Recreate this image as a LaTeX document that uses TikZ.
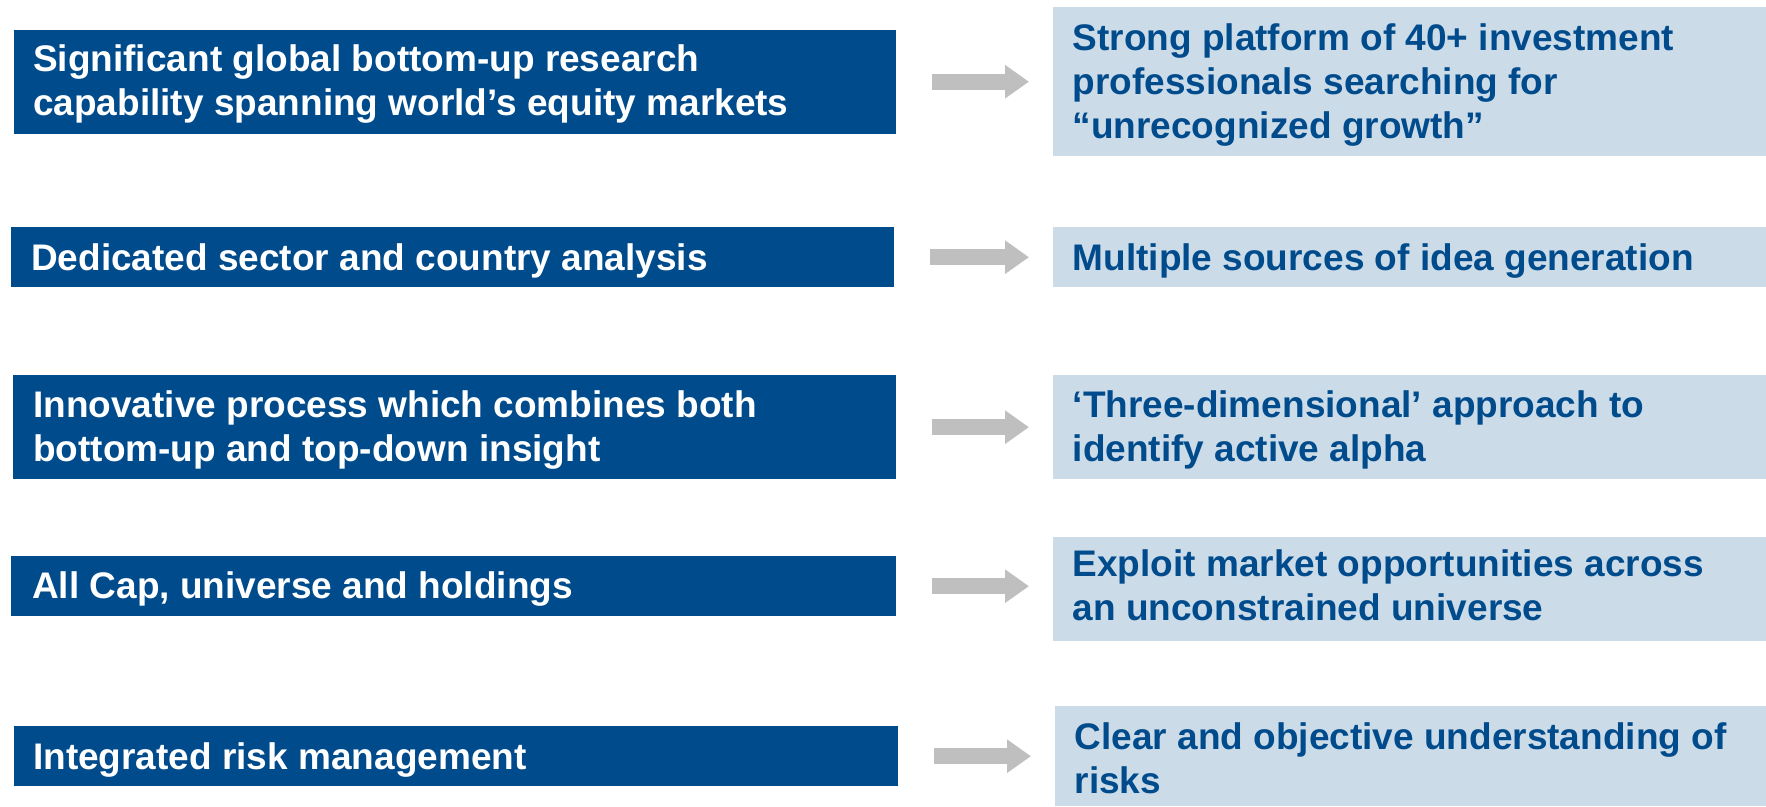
\documentclass[tikz,border=0pt]{standalone}
\usepackage{fontspec}
\setmainfont{Liberation Sans}
\usetikzlibrary{arrows.meta}

\definecolor{navy}{RGB}{0,75,140}
\definecolor{paleblue}{RGB}{204,219,232}
\definecolor{arrowgray}{RGB}{191,191,191}

\tikzset{
  leftbox/.style={rectangle, fill=navy, draw=none, inner sep=0pt, anchor=north west},
  rightbox/.style={rectangle, fill=paleblue, draw=none, inner sep=0pt, anchor=north west},
  % the base anchor of a multi-line text sits on its last line
  boxtext/.style={inner sep=0pt, anchor=base west, align=left,
    font=\fontsize{37}{44}\selectfont\bfseries},
  lefttext/.style={boxtext, text=white},
  righttext/.style={boxtext, text=navy},
  fatarrow/.style={draw=arrowgray, line width=16pt,
    -{Triangle[length=24pt,width=32pt]}, shorten <=36pt, shorten >=24pt}
}

% box: name, x-left, y-top, width, height
\newcommand{\lbox}[5]{\node[leftbox, minimum width=#4pt, minimum height=#5pt] (#1) at (#2,#3) {};}
\newcommand{\rbox}[5]{\node[rightbox, minimum width=#4pt, minimum height=#5pt] (#1) at (#2,#3) {};}

\begin{document}
\begin{tikzpicture}[x=1pt,y=-1pt]
  \useasboundingbox (0,0) rectangle (1766,806);

  % left column: capabilities
  \lbox{L1}{13.5}{29.5}{882.5}{104}
  \lbox{L2}{10.5}{227}{883.5}{60}
  \lbox{L3}{13}{375}{883}{104}
  \lbox{L4}{11}{556}{885}{60}
  \lbox{L5}{13.5}{726}{884}{60}

  % right column: outcomes
  \rbox{R1}{1053}{7}{713}{149}
  \rbox{R2}{1053}{227}{713}{60}
  \rbox{R3}{1053}{375}{713}{104}
  \rbox{R4}{1053}{536.5}{713}{104.5}
  \rbox{R5}{1055}{706}{711}{100}

  % left texts (positioned by the baseline of the last line)
  \node[lefttext] (L1t) at (33,115.7) {Significant global bottom-up research\\capability spanning world’s equity markets};
  \node[lefttext] (L2t) at (31,270) {Dedicated sector and country analysis};
  \node[lefttext] (L3t) at (33,461) {Innovative process which combines both\\bottom-up and top-down insight};
  \node[lefttext] (L4t) at (32,598) {All Cap, universe and holdings};
  \node[lefttext] (L5t) at (33,769) {Integrated risk management};

  % right texts
  \node[righttext] (R1t) at (1072.5,138.3) {Strong platform of 40+ investment\\professionals searching for\\“unrecognized growth”};
  \node[righttext] (R2t) at (1072.5,270) {Multiple sources of idea generation};
  \node[righttext] (R3t) at (1072.5,461) {‘Three-dimensional’ approach to\\identify active alpha};
  \node[righttext] (R4t) at (1072.5,620.7) {Exploit market opportunities across\\an unconstrained universe};
  \node[righttext] (R5t) at (1074.5,793) {Clear and objective understanding of\\risks};

  % connecting arrows
  \foreach \i in {1,...,5}
    \draw[fatarrow] (L\i.east) -- (L\i.east -| R\i.west);
\end{tikzpicture}
\end{document}
